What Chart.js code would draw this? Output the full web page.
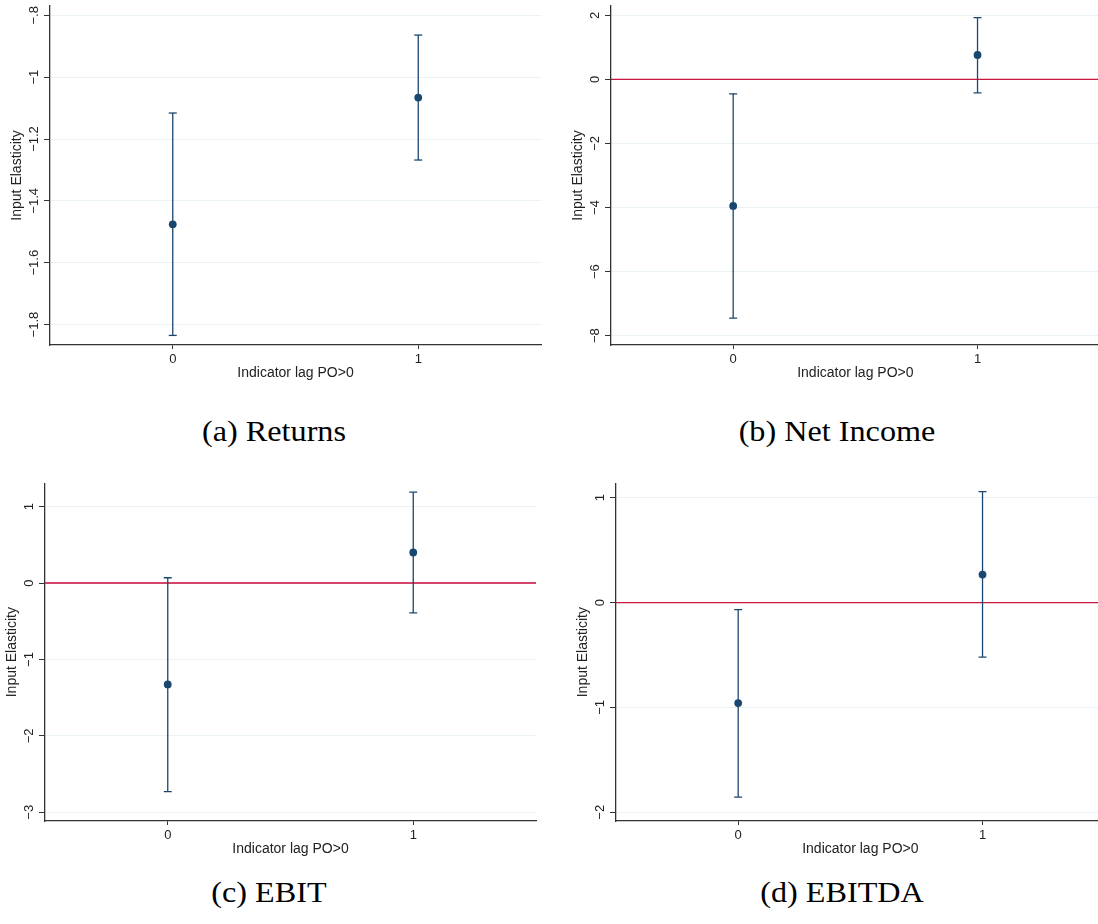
<!DOCTYPE html>
<html>
<head>
<meta charset="utf-8">
<script src="https://cdn.jsdelivr.net/npm/chart.js@4.4.1/dist/chart.umd.min.js"></script>
<style>
    html, body { margin: 0; padding: 0; background: #fff; overflow: hidden; }
    body { width: 1098px; height: 924px; position: relative; }
    canvas { position: absolute; }
    .caption {
        position: absolute;
        font-family: 'Liberation Serif', 'DejaVu Serif', serif;
        font-size: 28.5px;
        line-height: 28.5px;
        color: #000;
        white-space: nowrap;
        transform: translateX(-50%) scaleX(1.13);
    }
</style>
</head>
<body>
<canvas id="chart-a"></canvas>
<canvas id="chart-b"></canvas>
<canvas id="chart-c"></canvas>
<canvas id="chart-d"></canvas>
<div class="caption" style="left:274px; top:418px;">(a) Returns</div>
<div class="caption" style="left:837px; top:418px;">(b) Net Income</div>
<div class="caption" style="left:269px; top:879px;">(c) EBIT</div>
<div class="caption" style="left:842px; top:879px;">(d) EBITDA</div>
<script>
// x categories (Indicator lag PO>0)
const categories = [0, 1];
const xLabels = ['0', '1'];
const xRange = [-0.5, 1.5];

// (a) Returns
const returnsCoef = [-1.476, -1.066];
const returnsLow = [-1.835, -1.268];
const returnsHigh = [-1.116, -0.864];
const returnsTicks = [-1.8, -1.6, -1.4, -1.2, -1, -0.8];
const returnsTickLabels = ['\u22121.8', '\u22121.6', '\u22121.4', '\u22121.2', '\u22121', '\u2212.8'];
const returnsRange = [-1.866, -0.770];

// (b) Net Income
const netIncomeCoef = [-3.95, 0.76];
const netIncomeLow = [-7.45, -0.42];
const netIncomeHigh = [-0.45, 1.93];
const netIncomeTicks = [-8, -6, -4, -2, 0, 2];
const netIncomeTickLabels = ['\u22128', '\u22126', '\u22124', '\u22122', '0', '2'];
const netIncomeRange = [-8.29, 2.29];

// (c) EBIT
const ebitCoef = [-1.326, 0.40];
const ebitLow = [-2.73, -0.39];
const ebitHigh = [0.07, 1.19];
const ebitTicks = [-3, -2, -1, 0, 1];
const ebitTickLabels = ['\u22123', '\u22122', '\u22121', '0', '1'];
const ebitRange = [-3.114, 1.306];

// (d) EBITDA
const ebitdaCoef = [-0.959, 0.267];
const ebitdaLow = [-1.855, -0.52];
const ebitdaHigh = [-0.067, 1.058];
const ebitdaTicks = [-2, -1, 0, 1];
const ebitdaTickLabels = ['\u22122', '\u22121', '0', '1'];
const ebitdaRange = [-2.083, 1.137];

const navy = '#1a476f';
const axisColor = '#333333';
const textColor = '#222222';
const gridColor = '#eaf2f3';
const fontFamily = '"Liberation Sans", Arial, sans-serif';

// vertical tick labels on the y axis (Stata style)
const rotatedTicks = {
    id: 'rotatedTicks',
    afterDraw(chart, args, opts) {
        const scale = chart.scales.y;
        const ctx = chart.ctx;
        ctx.save();
        ctx.fillStyle = textColor;
        ctx.font = '13px ' + fontFamily;
        ctx.textAlign = 'center';
        ctx.textBaseline = 'alphabetic';
        scale.ticks.forEach((t, i) => {
            const y = scale.getPixelForValue(t.value);
            ctx.save();
            ctx.translate(scale.right - 12.5, y);
            ctx.rotate(-Math.PI / 2);
            ctx.fillText(opts.labels[i], 0, 0);
            ctx.restore();
        });
        ctx.restore();
    }
};

const makePanel = (id, box, coef, low, high, yTicks, yLabels, yRange, refLine) => {
    const canvas = document.getElementById(id);
    canvas.width = box.width;
    canvas.height = box.height;
    canvas.style.left = box.left + 'px';
    canvas.style.top = box.top + 'px';

    const datasets = [{
        data: categories.map((c, i) => ({ x: c, y: coef[i] })),
        pointRadius: 3.9,
        pointBackgroundColor: navy,
        pointBorderWidth: 0,
        showLine: false,
        order: 0
    }];

    categories.forEach((c, i) => {
        datasets.push({
            data: [{ x: c, y: low[i] }, { x: c, y: high[i] }],
            showLine: true,
            borderColor: navy,
            borderWidth: 1.3,
            pointStyle: 'line',
            pointRadius: 4,
            pointBorderColor: navy,
            pointBorderWidth: 1.3,
            order: 1
        });
    });

    if (refLine) {
        datasets.push({
            data: [{ x: xRange[0], y: 0 }, { x: xRange[1], y: 0 }],
            showLine: true,
            borderColor: refLine.color,
            borderWidth: refLine.width,
            pointRadius: 0,
            order: 2
        });
    }

    return new Chart(canvas, {
        type: 'scatter',
        data: { datasets: datasets },
        plugins: [rotatedTicks],
        options: {
            responsive: false,
            animation: false,
            events: [],
            layout: {
                padding: { top: box.padTop, right: box.padRight, left: 0, bottom: 0 }
            },
            plugins: {
                legend: { display: false },
                tooltip: { enabled: false },
                rotatedTicks: { labels: yLabels }
            },
            scales: {
                x: {
                    type: 'linear',
                    min: xRange[0],
                    max: xRange[1],
                    afterBuildTicks: (s) => { s.ticks = categories.map(v => ({ value: v })); },
                    afterFit: (s) => { s.height = 48; },
                    ticks: {
                        callback: (v) => xLabels[categories.indexOf(v)],
                        color: textColor,
                        padding: 3,
                        maxRotation: 0,
                        font: { family: fontFamily, size: 13 }
                    },
                    grid: { drawOnChartArea: false, tickLength: 4, tickColor: axisColor, tickWidth: 1 },
                    border: { color: axisColor, width: 1.3 },
                    title: {
                        display: true,
                        text: 'Indicator lag PO>0',
                        color: textColor,
                        font: { family: fontFamily, size: 14, lineHeight: 1.2 },
                        padding: { top: 0, bottom: 11.6 }
                    }
                },
                y: {
                    type: 'linear',
                    min: yRange[0],
                    max: yRange[1],
                    afterBuildTicks: (s) => { s.ticks = yTicks.map(v => ({ value: v })); },
                    afterFit: (s) => { s.width = 50; },
                    ticks: { display: false },
                    grid: { color: gridColor, lineWidth: 1, tickLength: 6, tickColor: axisColor, tickWidth: 1 },
                    border: { color: axisColor, width: 1.3 },
                    title: {
                        display: true,
                        text: 'Input Elasticity',
                        color: textColor,
                        font: { family: fontFamily, size: 14, lineHeight: 1.2 },
                        padding: { top: 9, bottom: 0 }
                    }
                }
            }
        }
    });
};

makePanel('chart-a', { left: 0, top: 0, width: 549, height: 393, padTop: 6, padRight: 8 },
    returnsCoef, returnsLow, returnsHigh, returnsTicks, returnsTickLabels, returnsRange, null);

makePanel('chart-b', { left: 561, top: 0, width: 544, height: 393, padTop: 6, padRight: 2 },
    netIncomeCoef, netIncomeLow, netIncomeHigh, netIncomeTicks, netIncomeTickLabels, netIncomeRange,
    { color: '#c8163e', width: 1.3 });

makePanel('chart-c', { left: -5, top: 470, width: 549, height: 399, padTop: 13.3, padRight: 8 },
    ebitCoef, ebitLow, ebitHigh, ebitTicks, ebitTickLabels, ebitRange,
    { color: '#d4456c', width: 2 });

makePanel('chart-d', { left: 566, top: 470, width: 544, height: 399, padTop: 13.3, padRight: 2 },
    ebitdaCoef, ebitdaLow, ebitdaHigh, ebitdaTicks, ebitdaTickLabels, ebitdaRange,
    { color: '#c8163e', width: 1.3 });
</script>
</body>
</html>
